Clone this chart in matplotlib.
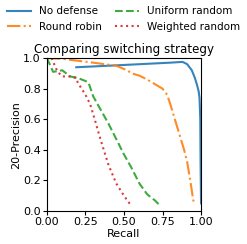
import matplotlib
matplotlib.use("Agg")
import matplotlib.pyplot as plt

nd_x = [0.19, 0.40, 0.60, 0.80, 0.88, 0.91, 0.94, 0.96, 0.975, 0.985, 0.99, 0.995, 0.997, 1.0]
nd_y = [0.94, 0.95, 0.96, 0.97, 0.975, 0.96, 0.92, 0.87, 0.82, 0.78, 0.74, 0.60, 0.30, 0.05]

rr_x = [0.0, 0.10, 0.30, 0.45, 0.52, 0.55, 0.60, 0.65, 0.70, 0.75, 0.78, 0.80, 0.83, 0.86, 0.89, 0.91, 0.93, 0.945, 0.955]
rr_y = [1.0, 0.995, 0.97, 0.95, 0.92, 0.90, 0.885, 0.86, 0.83, 0.80, 0.76, 0.70, 0.60, 0.50, 0.40, 0.32, 0.20, 0.10, 0.04]

ur_x = [0.0, 0.04, 0.10, 0.15, 0.20, 0.25, 0.27, 0.30, 0.35, 0.40, 0.45, 0.50, 0.55, 0.60, 0.65, 0.70, 0.73]
ur_y = [1.0, 0.91, 0.92, 0.88, 0.87, 0.85, 0.84, 0.75, 0.66, 0.57, 0.47, 0.37, 0.28, 0.18, 0.11, 0.07, 0.04]

wr_x = [0.03, 0.06, 0.08, 0.10, 0.15, 0.19, 0.20, 0.25, 0.28, 0.31, 0.35, 0.40, 0.45, 0.50, 0.55]
wr_y = [1.0, 0.93, 0.90, 0.88, 0.88, 0.87, 0.84, 0.76, 0.70, 0.60, 0.46, 0.30, 0.18, 0.10, 0.03]

labels = ["No defense", "Round robin", "Uniform random", "Weighted random"]

fig = plt.figure(figsize=(2.47, 2.44), dpi=100)
ax = fig.add_axes([0.19, 0.135, 0.624, 0.627])
ax.plot(nd_x, nd_y, '-', color='#1f77b4', label=labels[0], alpha=0.9)
ax.plot(rr_x, rr_y, '-.', color='#ff7f0e', label=labels[1], alpha=0.9)
ax.plot(ur_x, ur_y, '--', color='#2ca02c', label=labels[2], alpha=0.9)
ax.plot(wr_x, wr_y, ':', color='#d62728', label=labels[3], alpha=0.9)
ax.set_xlim(0, 1)
ax.set_ylim(0, 1)
ax.set_xlabel("Recall", fontsize=8, labelpad=1)
ax.set_ylabel("20-Precision", fontsize=8, labelpad=1)
ax.set_title("Comparing switching strategy", fontsize=8.6, pad=4)
ax.tick_params(labelsize=8, length=3, pad=1.5)
fig.legend(loc='upper center', bbox_to_anchor=(0.5, 1.012), ncol=2, frameon=False, fontsize=7.5,
           handlelength=2.3, columnspacing=1.2, labelspacing=0.5)
fig.savefig("out.png", dpi=100)
